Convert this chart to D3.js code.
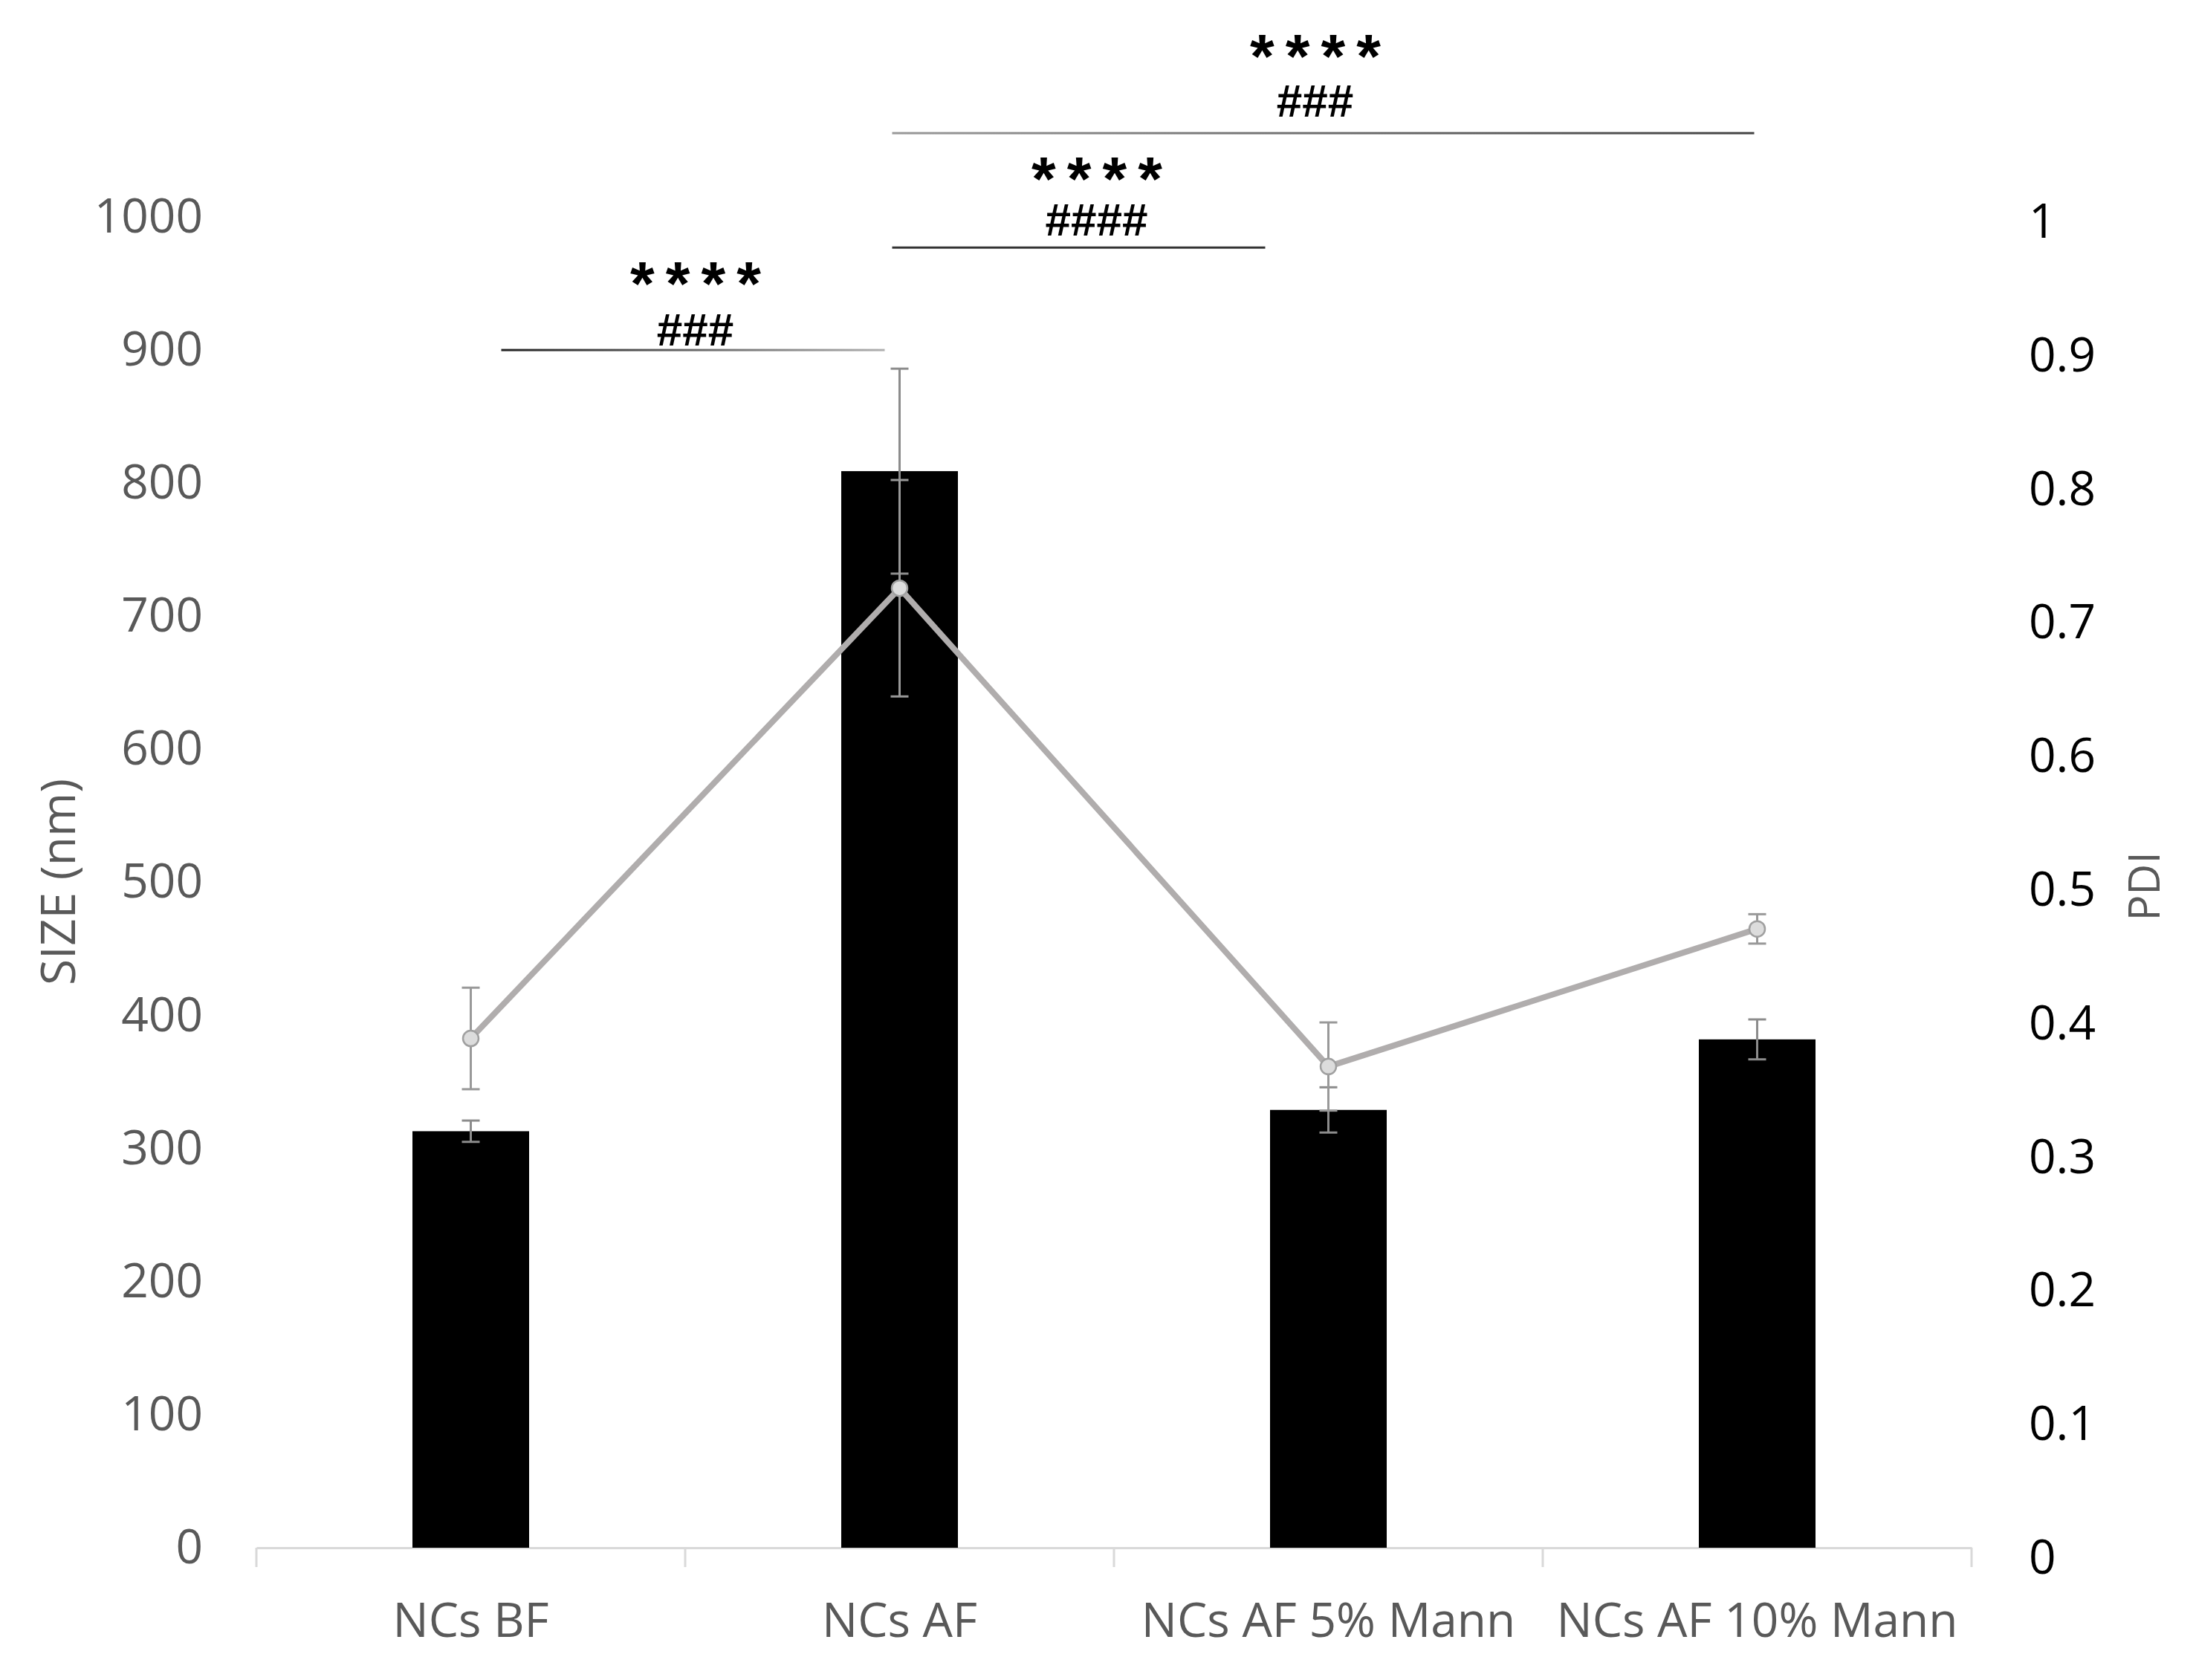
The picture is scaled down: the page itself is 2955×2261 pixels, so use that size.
<!DOCTYPE html>
<html>
<head>
<meta charset="utf-8">
<script src="https://cdn.jsdelivr.net/npm/d3@7"></script>
<style>
  html, body { margin: 0; padding: 0; background: #ffffff; }
  svg { display: block; }
</style>
</head>
<body>
<script>
// ---------------- data ----------------
const categories = ["NCs BF", "NCs AF", "NCs AF 5% Mann", "NCs AF 10% Mann"];
const sizeValues = [313, 809, 329, 382];      // nm (bars, left axis)
const sizeErrors = [8, 77, 17, 15];
const pdiValues  = [0.389, 0.726, 0.368, 0.471]; // PDI (line, right axis)
const pdiErrors  = [0.038, 0.081, 0.033, 0.011];
const leftTicks  = [0, 100, 200, 300, 400, 500, 600, 700, 800, 900, 1000];
const rightTicks = [0, 0.1, 0.2, 0.3, 0.4, 0.5, 0.6, 0.7, 0.8, 0.9, 1];
const leftTitle  = "SIZE (nm)";
const rightTitle = "PDI";
// significance brackets: from / to category index, labels
const sigFrom   = [0, 1, 1];
const sigTo     = [1, 2, 3];
const sigStars  = ["****", "****", "****"];
const sigHashes = ["###", "####", "###"];
const sigLevel  = [900, 977, 1063];   // height of bracket in size units

// ---------------- layout ----------------
const W = 2955, H = 2261;
const plotL = 345, plotR = 2653;
const svg = d3.select("body").append("svg").attr("width", W).attr("height", H);

const x = d3.scaleBand().domain(categories).range([plotL, plotR]).paddingInner(0).paddingOuter(0);
const yL = d3.scaleLinear().domain([0, 1000]).range([2083, 292]);
const yR = d3.scaleLinear().domain([0, 1]).range([2097, 299]);
const barW = 157;
const cx = d => x(d) + x.bandwidth() / 2;

const labelFont = "'Open Sans', 'DejaVu Sans', sans-serif";

// x axis line + separators
const xAxis = svg.append("g").attr("transform", `translate(0,${yL(0)})`)
  .call(d3.axisBottom(x).tickSize(0).tickPadding(75));
xAxis.select(".domain").attr("stroke", "#d9d9d9").attr("stroke-width", 3);
xAxis.selectAll("text").attr("font-family", labelFont).attr("font-size", 64).attr("fill", "#595959");
const seps = categories.map(c => x(c)).concat([plotR]);
svg.append("g").selectAll("line").data(seps).join("line")
  .attr("x1", d => d).attr("x2", d => d)
  .attr("y1", yL(0)).attr("y2", yL(0) + 26)
  .attr("stroke", "#d9d9d9").attr("stroke-width", 3);

// left axis labels
const lAxis = svg.append("g").attr("transform", `translate(${plotL},0)`)
  .call(d3.axisLeft(yL).tickValues(leftTicks).tickSize(0).tickPadding(72).tickFormat(d3.format("d")));
lAxis.select(".domain").remove();
lAxis.selectAll("text").attr("font-family", labelFont).attr("font-size", 64).attr("fill", "#595959");

// right axis labels
const rAxis = svg.append("g").attr("transform", `translate(${plotR},0)`)
  .call(d3.axisRight(yR).tickValues(rightTicks).tickSize(0).tickPadding(77).tickFormat(d => d3.format("~g")(d)));
rAxis.select(".domain").remove();
rAxis.selectAll("text").attr("font-family", labelFont).attr("font-size", 64).attr("fill", "#000000");

// axis titles
svg.append("text")
  .attr("transform", `translate(76,1187) rotate(-90)`)
  .attr("text-anchor", "middle").attr("dominant-baseline", "central")
  .attr("font-family", labelFont).attr("font-size", 64).attr("fill", "#595959")
  .text(leftTitle);
svg.append("text")
  .attr("transform", `translate(2883,1193) rotate(-90)`)
  .attr("text-anchor", "middle").attr("dominant-baseline", "central")
  .attr("font-family", labelFont).attr("font-size", 58).attr("fill", "#595959")
  .text(rightTitle);

// bars
svg.append("g").selectAll("rect").data(categories).join("rect")
  .attr("x", d => cx(d) - barW / 2)
  .attr("width", barW)
  .attr("y", (d, i) => yL(sizeValues[i]))
  .attr("height", (d, i) => yL(0) - yL(sizeValues[i]))
  .attr("fill", "#000000");

// error bars helper
function errBars(g, vals, errs, scale, color) {
  const grp = g.append("g");
  categories.forEach((c, i) => {
    const xc = cx(c);
    const y1 = scale(vals[i] + errs[i]), y2 = scale(vals[i] - errs[i]);
    grp.append("line").attr("x1", xc).attr("x2", xc).attr("y1", y1).attr("y2", y2)
      .attr("stroke", color).attr("stroke-width", 3);
    [y1, y2].forEach(yy => grp.append("line").attr("x1", xc - 12).attr("x2", xc + 12)
      .attr("y1", yy).attr("y2", yy).attr("stroke", color).attr("stroke-width", 3));
  });
}
errBars(svg, sizeValues, sizeErrors, yL, "#8c8c8c");

// PDI error bars
errBars(svg, pdiValues, pdiErrors, yR, "#999999");

// PDI line
const line = d3.line().x((d, i) => cx(categories[i])).y(d => yR(d));
svg.append("path").datum(pdiValues).attr("d", line)
  .attr("fill", "none").attr("stroke", "#b0adad").attr("stroke-width", 8)
  .attr("stroke-linejoin", "round");
svg.append("g").selectAll("circle").data(pdiValues).join("circle")
  .attr("cx", (d, i) => cx(categories[i])).attr("cy", d => yR(d)).attr("r", 10.5)
  .attr("fill", "#dcdcdc").attr("stroke", "#a0a0a0").attr("stroke-width", 2.5);

// significance brackets
const defs = svg.append("defs");
const sigStartOff = [41, -10, -10];
const sigEndOff   = [-20, -85, -4];
const sigTextDx   = [3, 24, -11];
const starRise    = [60, 63, 74];   // baseline offset of star line above bracket
const hashRise    = [6, 16, 22];    // baseline offset of hash line above bracket
const grads = [["#222222", "#b0b0b0"], ["#333333", "#333333"], ["#9a9a9a", "#444444"]];
sigFrom.forEach((f, k) => {
  const xa = cx(categories[f]) + sigStartOff[k];
  const xb = cx(categories[sigTo[k]]) + sigEndOff[k];
  const yy = yL(sigLevel[k]);
  const gid = "sg" + k;
  const lg = defs.append("linearGradient").attr("id", gid)
    .attr("gradientUnits", "userSpaceOnUse").attr("x1", xa).attr("x2", xb).attr("y1", 0).attr("y2", 0);
  lg.append("stop").attr("offset", "0%").attr("stop-color", grads[k][0]);
  lg.append("stop").attr("offset", "100%").attr("stop-color", grads[k][1]);
  svg.append("rect").attr("x", xa).attr("y", yy - 1.5).attr("width", xb - xa).attr("height", 3)
    .attr("fill", `url(#${gid})`);
  const mid = (xa + xb) / 2 + sigTextDx[k];
  const t = svg.append("text")
    .attr("text-anchor", "middle")
    .attr("font-family", "'Liberation Sans', Arial, sans-serif")
    .attr("fill", "#000");
  t.append("tspan").attr("x", mid + 8).attr("y", yy - starRise[k])
    .attr("font-weight", "bold").attr("font-size", 84).attr("letter-spacing", 15)
    .text(sigStars[k]);
  t.append("tspan").attr("x", mid).attr("y", yy - hashRise[k])
    .attr("font-weight", "bold").attr("font-size", 62)
    .text(sigHashes[k]);
});
</script>
</body>
</html>
